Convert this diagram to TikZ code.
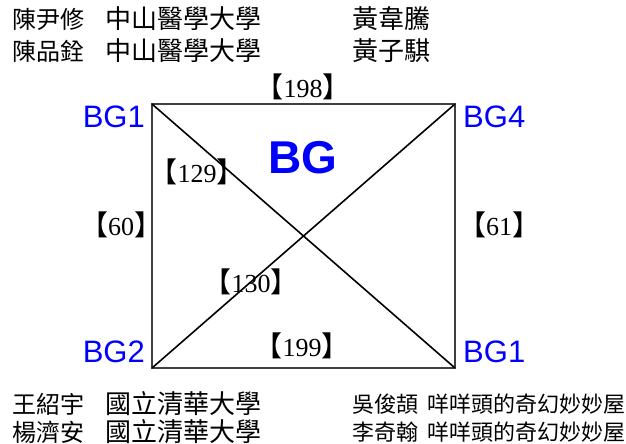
\documentclass[tikz,border=0pt]{standalone}
\usepackage{fontspec}
\setmainfont{Liberation Serif}
\newfontfamily\cjk{Noto Sans CJK TC}
\newfontfamily\arialfont{Liberation Sans}
\usepackage{xcolor}
\definecolor{bgBlue}{RGB}{0,0,255}
\newcommand{\wlab}[1]{\makebox[15pt][r]{\cjk\fontsize{28}{30}\selectfont 【}#1\makebox[15pt][l]{\cjk\fontsize{28}{30}\selectfont 】}}

\begin{document}
\begin{tikzpicture}[x=1pt, y=-1pt,
    who/.style={font=\cjk\fontsize{24}{26}\selectfont, anchor=west, inner sep=0pt},
    school/.style={font=\cjk\fontsize{26}{28}\selectfont, anchor=west, inner sep=0pt},
    shop/.style={font=\cjk\fontsize{22}{24}\selectfont, anchor=west, inner sep=0pt},
    corner/.style={font=\arialfont\fontsize{31}{34}\selectfont, text=bgBlue, inner sep=0pt},
    wt/.style={font=\fontsize{26}{28}\selectfont, inner sep=0pt},
    side/.style={draw=black!75, line width=1.3pt},
    diag/.style={draw=black, line width=1.6pt}
  ]
    \useasboundingbox (0,0) rectangle (626,444);
    % team lines, top
    \node[who] (n1) at (12,19) {陳尹修};
    \node[school] (s1) at (105,19) {中山醫學大學};
    \node[school] (m1) at (352,19) {黃韋騰};
    \node[who] (n2) at (12,51) {陳品銓};
    \node[school] (s2) at (105,51) {中山醫學大學};
    \node[school] (m2) at (352,51) {黃子騏};
    % the square
    \coordinate (tl) at (152,104);
    \coordinate (tr) at (455,104);
    \coordinate (bl) at (152,368);
    \coordinate (br) at (455,368);
    \draw[side] (tl) -- (tr) -- (br) -- (bl) -- cycle;
    \draw[diag] (tl) -- (br);
    \draw[diag] (bl) -- (tr);
    \node[corner, anchor=east] (bg1a) at (145,117) {BG1};
    \node[corner, anchor=west] (bg4) at (463,117) {BG4};
    \node[corner, anchor=east] (bg2) at (145,352) {BG2};
    \node[corner, anchor=west] (bg1b) at (463,352) {BG1};
    \node[font=\arialfont\bfseries\fontsize{46}{48}\selectfont, text=bgBlue, inner sep=0pt] (bg) at (303,158) {BG};
    \node[wt] (w198) at (303,87) {\wlab{198}};
    \node[wt] (w129) at (197,172) {\wlab{129}};
    \node[wt] (w60) at (121,225) {\wlab{60}};
    \node[wt] (w61) at (499,225) {\wlab{61}};
    \node[wt] (w130) at (251,282) {\wlab{130}};
    \node[wt] (w199) at (302,346) {\wlab{199}};
    % team lines, bottom
    \node[who] (n3) at (12,404) {王紹宇};
    \node[school] (s3) at (105,404) {國立清華大學};
    \node[who] (n4) at (12,432) {楊濟安};
    \node[school] (s4) at (105,432) {國立清華大學};
    \node[shop] (r1) at (352,404) {吳俊頡};
    \node[shop] (t1) at (427,404) {咩咩頭的奇幻妙妙屋};
    \node[shop] (r2) at (352,432) {李奇翰};
    \node[shop] (t2) at (427,432) {咩咩頭的奇幻妙妙屋};
\end{tikzpicture}
\end{document}
